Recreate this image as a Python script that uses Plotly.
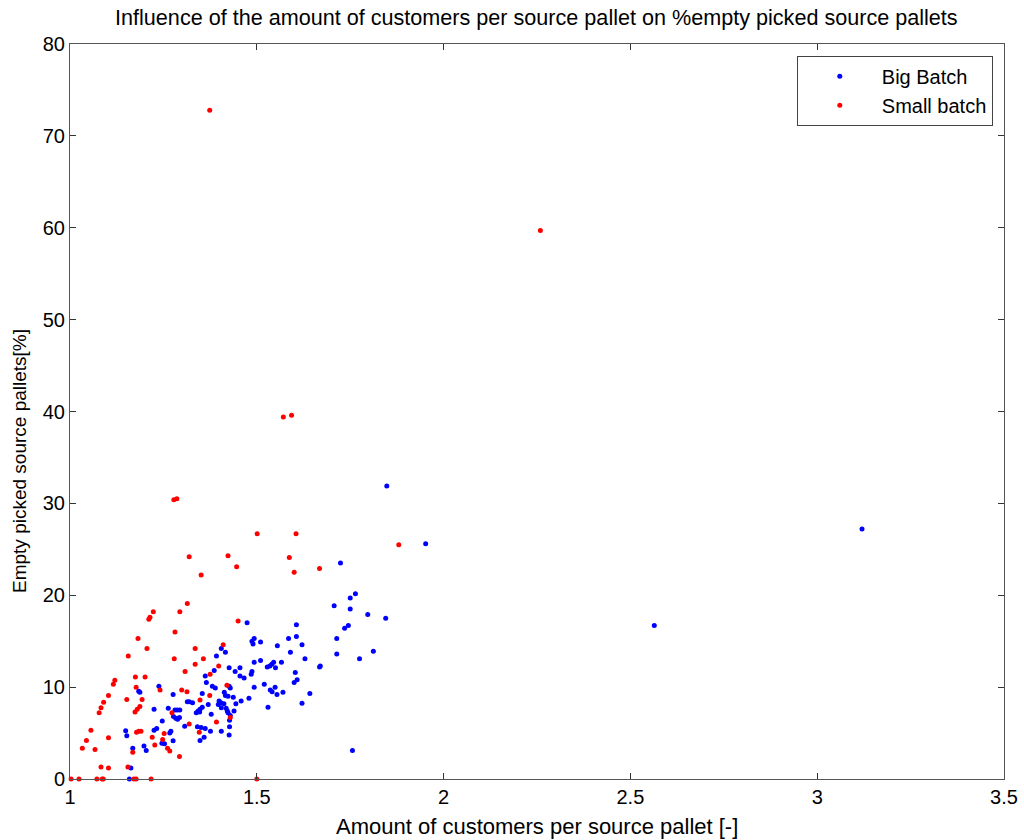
import plotly.graph_objects as go

# Big Batch: (customers per source pallet, % empty picked source pallets)
big_x = [1.848, 1.952, 1.724, 1.764, 1.750, 1.707, 1.750, 1.797, 1.845, 1.735,
         1.745, 1.714, 1.714, 1.812, 1.775, 1.756, 2.564, 3.120, 1.474, 1.606,
         1.405, 1.416, 1.392, 1.487, 1.493, 1.490, 1.510, 1.555, 1.585, 1.606,
         1.621, 1.590, 1.629, 1.493, 1.510, 1.386, 1.426, 1.442, 1.455, 1.362,
         1.466, 1.455, 1.487, 1.485, 1.528, 1.535, 1.540, 1.545, 1.550, 1.566,
         1.603, 1.668, 1.670, 1.600, 1.608, 1.365, 1.381, 1.389, 1.354, 1.413,
         1.416, 1.423, 1.429, 1.426, 1.437, 1.479, 1.493, 1.520, 1.536, 1.541,
         1.549, 1.554, 1.570, 1.642, 1.621, 1.530, 1.370, 1.354, 1.348, 1.343,
         1.338, 1.399, 1.404, 1.397, 1.405, 1.412, 1.418, 1.421, 1.423, 1.444,
         1.458, 1.439, 1.378, 1.427, 1.429, 1.427, 1.341, 1.351, 1.362, 1.376,
         1.405, 1.426, 1.359, 1.348, 1.238, 1.187, 1.184, 1.276, 1.225, 1.263,
         1.281, 1.287, 1.294, 1.314, 1.319, 1.328, 1.277, 1.283, 1.288, 1.293,
         1.247, 1.347, 1.307, 1.270, 1.267, 1.232, 1.225, 1.149, 1.152, 1.246,
         1.253, 1.276, 1.198, 1.204, 1.168, 1.163, 1.159]
big_y = [31.9, 25.6, 23.5, 20.15, 19.7, 18.85, 18.5, 17.9, 17.5, 16.4,
         16.7, 15.3, 13.6, 13.9, 13.1, 3.1, 16.7, 27.2, 17.0, 16.8,
         14.2, 13.8, 13.4, 15.0, 15.3, 14.7, 14.9, 14.5, 15.3, 15.5,
         14.6, 13.8, 13.1, 12.7, 12.9, 11.8, 12.1, 11.7, 12.1, 11.2,
         11.0, 11.2, 11.7, 11.4, 12.2, 12.3, 12.5, 12.7, 12.1, 12.7,
         11.6, 12.2, 12.3, 10.5, 10.8, 10.5, 10.1, 9.9, 9.3, 9.45,
         9.1, 9.0, 9.9, 10.1, 8.9, 8.8, 10.0, 10.3, 9.7, 9.5,
         10.0, 9.2, 9.45, 9.3, 8.25, 7.8, 8.1, 7.8, 7.6, 7.4,
         7.2, 8.5, 8.3, 8.1, 7.75, 8.2, 7.7, 7.4, 7.2, 8.2,
         8.5, 7.4, 7.05, 6.4, 6.9, 5.7, 5.7, 5.6, 5.5, 5.2,
         5.2, 4.8, 4.55, 4.2, 10.1, 9.45, 9.55, 9.2, 7.6, 7.7,
         7.5, 7.5, 7.5, 8.4, 8.4, 8.3, 6.8, 6.6, 6.5, 6.7,
         6.3, 7.3, 5.75, 5.2, 5.0, 5.5, 5.3, 5.25, 4.7, 3.9,
         3.85, 4.15, 3.6, 3.1, 3.35, 1.2, 0.0]

# Small batch
small_x = [1.374, 2.259, 1.571, 1.593, 1.278, 1.286, 1.501, 1.605, 1.880, 1.319,
           1.423, 1.587, 1.446, 1.351, 1.600, 1.668, 1.314, 1.294, 1.223, 1.214,
           1.211, 1.281, 1.182, 1.206, 1.335, 1.156, 1.279, 1.335, 1.308, 1.450,
           1.410, 1.357, 1.398, 1.375, 1.420, 1.374, 1.348, 1.429, 1.392, 1.346,
           1.175, 1.201, 1.120, 1.116, 1.177, 1.241, 1.299, 1.313, 1.103, 1.152,
           1.193, 1.090, 1.083, 1.187, 1.180, 1.174, 1.078, 1.273, 1.319, 1.056,
           1.103, 1.178, 1.184, 1.190, 1.220, 1.252, 1.044, 1.033, 1.067, 1.168,
           1.227, 1.248, 1.261, 1.267, 1.293, 1.083, 1.103, 1.155,
           1.003, 1.024, 1.072, 1.086, 1.089, 1.171, 1.177, 1.217, 1.500]
small_y = [72.8, 59.7, 39.4, 39.6, 30.4, 30.5, 26.7, 26.7, 25.5, 24.2,
           24.3, 24.1, 23.1, 22.2, 22.5, 22.9, 19.1, 18.2, 18.2, 17.6,
           17.4, 16.0, 15.3, 14.2, 14.2, 13.4, 13.1, 12.5, 11.7, 17.2,
           14.6, 13.1, 12.3, 11.4, 10.2, 9.1, 8.6, 6.7, 6.2, 5.1,
           11.1, 11.1, 10.75, 10.3, 10.0, 9.7, 9.7, 9.5, 9.1, 8.65,
           8.65, 8.36, 7.75, 7.9, 7.6, 7.3, 7.2, 7.2, 6.0, 5.3,
           4.5, 5.1, 5.2, 5.2, 4.55, 4.95, 4.2, 3.35, 3.2, 2.9,
           3.7, 4.3, 3.35, 3.05, 2.45, 1.3, 1.2, 1.3,
           0.0, 0.0, 0.0, 0.0, 0.0, 0.0, 0.0, 0.0, 0.0]

FONT = "Liberation Sans, Arial, sans-serif"

fig = go.Figure()
fig.add_trace(go.Scatter(x=big_x, y=big_y, mode="markers", name="Big Batch",
                         marker=dict(color="#0000ff", size=5, symbol="circle"),
                         cliponaxis=False))
fig.add_trace(go.Scatter(x=small_x, y=small_y, mode="markers", name="Small batch",
                         marker=dict(color="#ff0000", size=5, symbol="circle"),
                         cliponaxis=False))

axis_common = dict(showline=True, linecolor="#555555", linewidth=1, mirror="ticks",
                   ticks="inside", ticklen=6, tickcolor="#333333", showgrid=False,
                   zeroline=False, automargin=False,
                   tickfont=dict(family=FONT, size=20, color="#000"))

fig.update_layout(
    width=1024, height=840,
    margin=dict(l=70, r=20, t=44, b=61),
    paper_bgcolor="white", plot_bgcolor="white",
    title=dict(text="Influence of the amount of customers per source pallet on %empty picked source pallets",
               x=0.5238, xanchor="center", y=0.9795, yanchor="middle",
               font=dict(family=FONT, size=21.6, color="#000")),
    xaxis=dict(range=[1, 3.5], dtick=0.5, tick0=1, **axis_common),
    yaxis=dict(range=[0, 80], dtick=10, tick0=0, **axis_common),
    legend=dict(x=0.988, y=0.984, xanchor="right", yanchor="top",
                bordercolor="#444444", borderwidth=1, bgcolor="white",
                font=dict(family=FONT, size=20, color="#000"),
                itemwidth=74, tracegroupgap=0),
    showlegend=True,
    annotations=[
        dict(text="Amount of customers per source pallet [-]", xref="paper", yref="paper",
             x=0.5, y=-0.064, xanchor="center", yanchor="middle", showarrow=False,
             font=dict(family=FONT, size=22, color="#000")),
        dict(text="Empty picked source pallets[%]", xref="paper", yref="paper",
             x=-0.0535, y=0.4327, xanchor="center", yanchor="middle", showarrow=False,
             textangle=-90, font=dict(family=FONT, size=19, color="#000")),
    ],
)

fig.write_html("out.html", config={"displayModeBar": False},
               post_script="document.body.style.margin='0';")
